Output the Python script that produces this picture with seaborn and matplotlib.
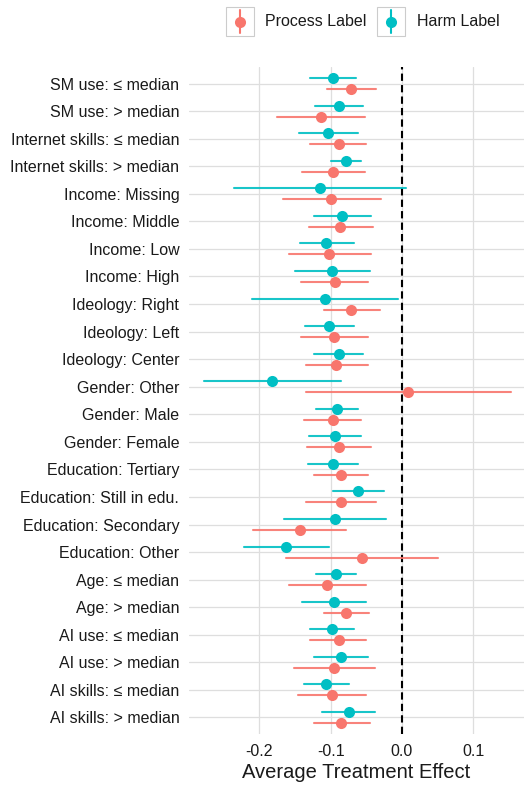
import numpy as np
import pandas as pd
import matplotlib
matplotlib.use("Agg")
import matplotlib.pyplot as plt
from matplotlib.patches import Rectangle
from matplotlib.lines import Line2D
import seaborn as sns

# Subgroups, listed top to bottom
groups = [
    "SM use: \u2264 median", "SM use: > median",
    "Internet skills: \u2264 median", "Internet skills: > median",
    "Income: Missing", "Income: Middle", "Income: Low", "Income: High",
    "Ideology: Right", "Ideology: Left", "Ideology: Center",
    "Gender: Other", "Gender: Male", "Gender: Female",
    "Education: Tertiary", "Education: Still in edu.",
    "Education: Secondary", "Education: Other",
    "Age: \u2264 median", "Age: > median",
    "AI use: \u2264 median", "AI use: > median",
    "AI skills: \u2264 median", "AI skills: > median",
]

# Process label: estimate and 95% CI bounds
process_est = [-0.071, -0.114, -0.089, -0.097, -0.099, -0.087, -0.102, -0.094,
               -0.071, -0.095, -0.092, 0.009, -0.097, -0.088, -0.086, -0.086,
               -0.143, -0.056, -0.105, -0.078, -0.089, -0.096, -0.098, -0.085]
process_lo = [-0.105, -0.175, -0.129, -0.140, -0.167, -0.131, -0.159, -0.141,
              -0.109, -0.141, -0.135, -0.135, -0.138, -0.133, -0.123, -0.135,
              -0.209, -0.162, -0.158, -0.110, -0.129, -0.152, -0.146, -0.124]
process_hi = [-0.036, -0.052, -0.050, -0.052, -0.030, -0.041, -0.044, -0.047,
              -0.031, -0.048, -0.048, 0.153, -0.057, -0.043, -0.048, -0.037,
              -0.078, 0.050, -0.051, -0.046, -0.051, -0.038, -0.050, -0.045]

# Harm label: estimate and 95% CI bounds
harm_est = [-0.097, -0.088, -0.104, -0.079, -0.115, -0.084, -0.106, -0.098,
            -0.108, -0.102, -0.089, -0.182, -0.091, -0.094, -0.097, -0.061,
            -0.094, -0.162, -0.092, -0.095, -0.098, -0.086, -0.106, -0.074]
harm_lo = [-0.129, -0.122, -0.145, -0.099, -0.236, -0.124, -0.143, -0.150,
           -0.210, -0.136, -0.124, -0.277, -0.121, -0.131, -0.132, -0.097,
           -0.165, -0.221, -0.120, -0.140, -0.129, -0.123, -0.137, -0.112]
harm_hi = [-0.065, -0.055, -0.062, -0.058, 0.006, -0.043, -0.068, -0.045,
           -0.005, -0.067, -0.055, -0.086, -0.061, -0.057, -0.061, -0.025,
           -0.023, -0.103, -0.064, -0.050, -0.068, -0.048, -0.074, -0.038]

labels = ["Process Label", "Harm Label"]
colors = {"Process Label": "#F8766D", "Harm Label": "#00BFC4"}

# Long table: each (group, label) contributes its lower bound, estimate and
# upper bound, so the median is the estimate and the 0-100 percentile
# interval spans the confidence interval.
rows = []
for lab, est, lo, hi in [("Process Label", process_est, process_lo, process_hi),
                         ("Harm Label", harm_est, harm_lo, harm_hi)]:
    for g, e, l, h in zip(groups, est, lo, hi):
        for v in (l, e, h):
            rows.append({"group": g, "label": lab, "ate": v})
df = pd.DataFrame(rows)

sns.set_theme(style="white")
plt.rcParams["font.family"] = ["Liberation Sans", "DejaVu Sans"]

W, H = 524, 785
fig = plt.figure(figsize=(W / 100, H / 100), dpi=100)
ax = fig.add_axes([189 / W, 1 - 734 / H, (524 - 189) / W, (734 - 67) / H])

sns.pointplot(
    data=df, x="ate", y="group", hue="label",
    order=groups, hue_order=["Harm Label", "Process Label"],
    palette=colors, estimator="median", errorbar=("pi", 100),
    dodge=0.4, linestyle="none", markers="o", legend=False,
    markersize=8, markeredgewidth=0,
    err_kws={"linewidth": 1.5, "alpha": 0.9},
    ax=ax,
)

ax.axvline(0, color="black", linewidth=1.5, linestyle=(0, (3.5, 2)), zorder=1.5)

ax.set_xlim(-0.2987, 0.1711)
ax.set_ylim(len(groups) - 0.4, -0.6)
ax.set_xticks([-0.2, -0.1, 0.0, 0.1])
ax.set_xticklabels(["-0.2", "-0.1", "0.0", "0.1"])
ax.grid(True, color="#dedede", linewidth=0.9)
ax.set_axisbelow(True)
for s in ax.spines.values():
    s.set_visible(False)
ax.tick_params(axis="both", length=0, labelsize=11.5, colors="#1a1a1a")
ax.tick_params(axis="y", pad=7)
ax.tick_params(axis="x", pad=7)
ax.set_ylabel("")
ax.set_xlabel("Average Treatment Effect", fontsize=14.5, color="#1a1a1a", labelpad=3)

# Legend along the top, one boxed key per label
def px(x, y):
    return x / W, 1 - y / H

for lab, (bx, tx) in zip(labels, [(226, 265), (377, 417)]):
    x0, y0 = px(bx, 36)
    fig.patches.append(Rectangle((x0, y0), 28 / W, 29 / H, transform=fig.transFigure,
                                 facecolor="white", edgecolor="#cccccc", linewidth=0.8))
    cx = (bx + 14) / W
    fig.add_artist(Line2D([cx, cx], [1 - 10 / H, 1 - 33 / H], transform=fig.transFigure,
                          color=colors[lab], linewidth=1.5))
    fig.add_artist(Line2D([cx], [1 - 21.5 / H], transform=fig.transFigure,
                          marker="o", markersize=8, markeredgewidth=0,
                          color=colors[lab], linestyle="none"))
    fig.text(tx / W, 1 - 22 / H, lab, fontsize=11.5, color="#1a1a1a",
             ha="left", va="center")

fig.savefig("out.png", dpi=100, facecolor="white")
